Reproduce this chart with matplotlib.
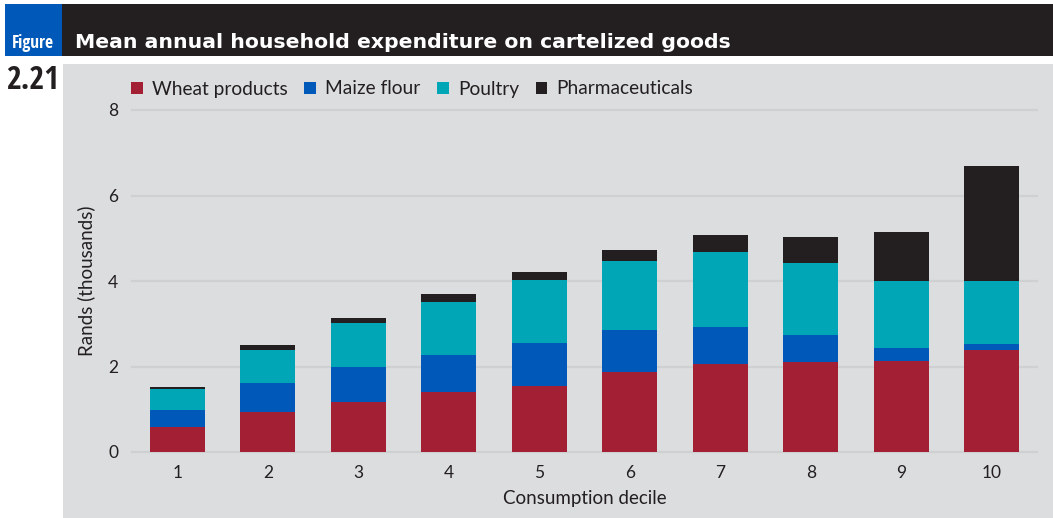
import numpy as np
import matplotlib.pyplot as plt
from matplotlib.patches import Rectangle, Patch

deciles = ["1", "2", "3", "4", "5", "6", "7", "8", "9", "10"]
wheat = [0.58, 0.93, 1.16, 1.40, 1.54, 1.87, 2.05, 2.11, 2.14, 2.38]
maize = [0.40, 0.68, 0.82, 0.86, 1.01, 0.99, 0.88, 0.63, 0.29, 0.15]
poultry = [0.49, 0.77, 1.03, 1.26, 1.48, 1.61, 1.75, 1.68, 1.57, 1.48]
pharma = [0.04, 0.12, 0.12, 0.17, 0.18, 0.26, 0.40, 0.61, 1.15, 2.67]
series_names = ["Wheat products", "Maize flour", "Poultry", "Pharmaceuticals"]
y_ticks = [0, 2, 4, 6, 8]

colors = ["#a31f34", "#0058b8", "#00a6b6", "#231f20"]
panel_bg = "#dcdddf"
grid_col = "#cfd0d2"

plt.rcParams['font.family'] = ['Lato', 'DejaVu Sans']

W, H = 1053, 518
fig = plt.figure(figsize=(W / 100, H / 100), dpi=100)
fig.patch.set_facecolor("white")


def px(x0, y0, w, h):
    # pixel box (top-left origin) -> figure fraction
    return [x0 / W, 1 - (y0 + h) / H, w / W, h / H]


# header band, figure tag and grey panel (behind the axes)
fig.add_artist(Rectangle((62 / W, 1 - 56 / H), (W - 62) / W, 52 / H,
                         transform=fig.transFigure, color="#231f20", lw=0,
                         zorder=-10))
fig.add_artist(Rectangle((5 / W, 1 - 56 / H), 57 / W, 52 / H,
                         transform=fig.transFigure, color="#0058b8", lw=0,
                         zorder=-10))
fig.add_artist(Rectangle((63 / W, 0), (W - 63) / W, 1 - 64 / H,
                         transform=fig.transFigure, color=panel_bg, lw=0,
                         zorder=-10))

fig.text(33 / W, 1 - 48 / H, "Figure", color="white", ha="center",
         va="baseline", fontsize=12.5,
         family=['Open Sans Condensed', 'Roboto Condensed', 'Roboto'])
fig.text(75 / W, 1 - 48 / H, "Mean annual household expenditure on cartelized goods",
         color="white", ha="left", va="baseline", fontsize=14.7,
         fontweight="bold", family=['DejaVu Sans'])
fig.text(33 / W, 1 - 89 / H, "2.21", color="#231f20", ha="center",
         va="baseline", fontsize=23, fontweight="bold",
         family=['Open Sans Condensed', 'Roboto Condensed', 'Roboto'])

ax = fig.add_axes(px(132, 110, 905, 342))
ax.set_facecolor("none")
x = np.arange(1, len(deciles) + 1)
bottom = np.zeros(len(deciles))
for vals, c, name in zip([wheat, maize, poultry, pharma], colors, series_names):
    ax.bar(x, vals, width=0.61, bottom=bottom, color=c, label=name, zorder=3)
    bottom += np.array(vals)

ax.set_xlim(0.5, 10.5)
ax.set_ylim(0, 8)
ax.set_yticks(y_ticks)
ax.set_xticks(x)
ax.set_xticklabels(deciles)
ax.tick_params(length=0, labelsize=12.5, colors="#231f20")
ax.tick_params(axis="x", pad=9)
ax.tick_params(axis="y", pad=10)
for t in y_ticks:
    ax.axhline(t, color=grid_col, lw=1.6, zorder=1, clip_on=False)
for s in ax.spines.values():
    s.set_visible(False)

ax.set_xlabel("Consumption decile", fontsize=13.5, color="#231f20", labelpad=7)
ax.set_ylabel("Rands (thousands)", fontsize=13.5, color="#231f20", labelpad=9)

handles = [Patch(facecolor=c, edgecolor="none") for c in colors]
fig.legend(handles, series_names, loc="center left",
           bbox_to_anchor=(114 / W, 1 - 89 / H), ncol=4, frameon=False,
           fontsize=13.8, handlelength=0.6, handleheight=0.6,
           handletextpad=0.5, columnspacing=0.85, labelcolor="#231f20")

fig.savefig("out.png", dpi=100, facecolor=fig.get_facecolor())
